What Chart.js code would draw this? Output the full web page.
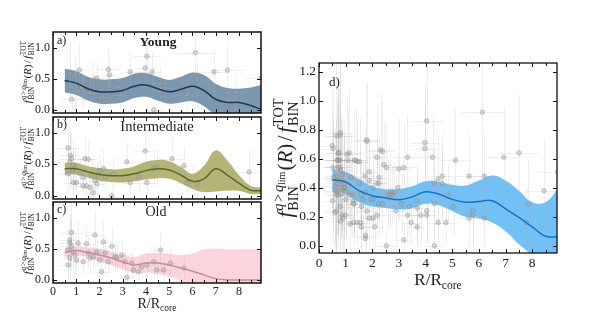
<!DOCTYPE html>
<html><head><meta charset="utf-8">
<script src="https://cdn.jsdelivr.net/npm/chart.js@4.4.1/dist/chart.umd.min.js"></script>
<style>
html,body{margin:0;padding:0;background:#fff;}
#wrap{position:relative;width:592px;height:316px;overflow:hidden;background:#fff}
canvas{position:absolute;left:0;top:0;width:592px;height:316px}
</style></head><body><div id="wrap">
<canvas id="ca" width="592" height="316"></canvas>
<canvas id="cb" width="592" height="316"></canvas>
<canvas id="cc" width="592" height="316"></canvas>
<canvas id="cd" width="592" height="316"></canvas>
</div>
<script>
// ---------- data ----------
const rKnots = [0.5,1.0,1.5,2.0,2.5,3.0,3.5,4.0,4.5,5.0,5.5,6.0,6.5,7.0,7.5,8.0,8.5,8.95];

const youngMid = [0.47,0.43,0.34,0.29,0.29,0.31,0.38,0.40,0.34,0.29,0.33,0.38,0.31,0.17,0.12,0.12,0.07,0.01];
const youngHi  = [0.66,0.62,0.53,0.49,0.49,0.51,0.58,0.59,0.53,0.48,0.53,0.60,0.56,0.42,0.35,0.34,0.36,0.40];
const youngLo  = [0.28,0.24,0.15,0.10,0.10,0.12,0.19,0.21,0.15,0.10,0.12,0.14,0.06,-0.08,-0.12,-0.12,-0.20,-0.35];

const interMid = [0.43,0.43,0.38,0.34,0.32,0.32,0.35,0.40,0.43,0.41,0.33,0.23,0.27,0.43,0.33,0.20,0.09,0.08];
const interHi  = [0.52,0.52,0.47,0.44,0.42,0.43,0.47,0.54,0.57,0.55,0.46,0.35,0.48,0.72,0.56,0.33,0.16,0.13];
const interLo  = [0.34,0.34,0.29,0.24,0.22,0.21,0.23,0.26,0.28,0.27,0.20,0.11,0.06,0.07,0.08,0.08,0.03,0.03];

const oldMid = [0.44,0.47,0.44,0.40,0.35,0.29,0.24,0.27,0.27,0.24,0.19,0.14,0.08,0.02,0.0,0.0,0.0,0.0];
const oldHi  = [0.52,0.53,0.52,0.50,0.46,0.40,0.37,0.42,0.43,0.42,0.40,0.42,0.49,0.50,0.49,0.49,0.49,0.49];
const oldLo  = [0.36,0.40,0.36,0.30,0.24,0.17,0.11,0.12,0.09,0.06,-0.02,-0.12,-0.25,-0.40,-0.50,-0.50,-0.50,-0.50];

const allMid = [0.455,0.44,0.38,0.345,0.33,0.317,0.337,0.372,0.355,0.32,0.30,0.305,0.31,0.255,0.195,0.13,0.065,0.062];
const allHi  = [0.53,0.51,0.46,0.41,0.39,0.39,0.41,0.445,0.44,0.42,0.415,0.45,0.485,0.45,0.38,0.30,0.30,0.39];
const allLo  = [0.37,0.36,0.30,0.27,0.26,0.25,0.26,0.29,0.28,0.24,0.20,0.19,0.16,0.10,0.01,-0.07,-0.18,-0.27];

// points: [R, value, xErr, yErr]
const youngPts = [
 [0.80,0.17,0.45,0.35],[0.94,0.40,0.50,0.45],[1.01,0.37,0.40,0.30],[1.13,0.64,0.55,0.45],
 [1.23,0.35,0.35,0.30],[1.30,0.31,0.45,0.25],[1.73,0.48,0.40,0.30],[1.88,0.51,0.35,0.25],
 [2.02,0.19,0.30,0.20],[2.17,0.21,0.40,0.15],[2.38,0.65,0.45,0.35],[2.43,0.56,0.30,0.30],
 [2.81,0.37,0.40,0.20],[2.89,0.24,0.35,0.25],[3.32,0.61,0.50,0.30],[4.04,0.86,0.60,0.40],
 [3.97,0.67,0.45,0.35],[4.26,0.61,0.40,0.30],[4.62,0.43,0.35,0.25],[4.84,0.35,0.45,0.20],
 [4.33,0.00,0.40,0.15],[6.13,0.92,0.80,0.45],[6.20,0.48,0.60,0.30],[6.93,0.61,0.70,0.35],
 [7.50,0.64,0.80,0.40],[7.86,0.29,0.60,0.30],[5.77,0.24,0.50,0.25],[0.72,0.59,0.55,0.50],
 [1.59,0.27,0.30,0.20],[8.95,0.51,0.70,0.40],[7.78,0.16,0.50,0.25]
];
const interPts = [
 [0.65,0.76,0.50,0.50],[0.75,0.64,0.45,0.45],[0.79,0.59,0.55,0.40],[0.72,0.54,0.50,0.45],
 [0.87,0.49,0.45,0.40],[0.94,0.43,0.50,0.35],[0.84,0.40,0.40,0.35],[0.65,0.35,0.45,0.40],
 [0.87,0.21,0.40,0.30],[1.16,0.35,0.35,0.25],[1.30,0.29,0.30,0.20],[1.37,0.59,0.45,0.35],
 [1.52,0.58,0.40,0.30],[1.44,0.16,0.30,0.15],[1.59,0.13,0.35,0.15],[1.73,0.05,0.30,0.10],
 [1.80,0.24,0.35,0.20],[1.66,0.32,0.30,0.25],[1.95,0.32,0.40,0.20],[2.02,0.40,0.35,0.25],
 [2.17,0.43,0.40,0.30],[2.24,0.29,0.30,0.20],[2.53,0.00,0.35,0.10],[2.60,0.35,0.40,0.25],
 [3.18,0.54,0.45,0.30],[3.32,0.21,0.40,0.20],[3.68,0.31,0.35,0.25],[3.97,0.71,0.50,0.40],
 [4.04,0.21,0.40,0.20],[4.33,0.43,0.45,0.25],[4.47,0.46,0.40,0.30],[5.12,0.59,0.55,0.35],
 [5.63,0.48,0.50,0.30],[5.77,0.21,0.45,0.20],[6.20,0.19,0.50,0.20],[8.44,0.38,0.70,0.35],
 [1.01,0.21,0.30,0.20],[1.30,0.16,0.35,0.15],[1.88,0.19,0.30,0.20]
];
const oldPts = [
 [0.79,0.76,0.50,0.50],[0.72,0.59,0.45,0.45],[0.79,0.54,0.50,0.40],[0.65,0.48,0.45,0.40],
 [0.87,0.45,0.50,0.35],[0.94,0.40,0.45,0.35],[0.72,0.35,0.40,0.35],[0.65,0.24,0.40,0.30],
 [1.01,0.32,0.35,0.25],[1.08,0.59,0.40,0.35],[1.44,0.58,0.40,0.30],[1.52,0.43,0.35,0.25],
 [1.59,0.35,0.30,0.25],[1.73,0.37,0.35,0.20],[1.80,0.72,0.45,0.40],[1.88,0.45,0.35,0.25],
 [2.02,0.32,0.30,0.20],[2.09,0.13,0.35,0.15],[2.17,0.61,0.40,0.35],[2.24,0.43,0.35,0.25],
 [2.53,0.54,0.40,0.30],[2.67,0.37,0.35,0.25],[2.74,0.35,0.30,0.20],[2.96,0.40,0.40,0.25],
 [3.10,0.29,0.35,0.20],[3.18,0.04,0.30,0.10],[3.39,0.27,0.40,0.20],[3.46,0.16,0.35,0.15],
 [3.68,0.13,0.30,0.15],[3.82,0.21,0.35,0.20],[4.04,0.24,0.40,0.20],[4.33,0.29,0.35,0.25],
 [4.47,0.16,0.40,0.15],[4.62,0.48,0.45,0.30],[4.76,0.16,0.40,0.15],[5.05,0.27,0.45,0.20],
 [5.63,0.19,0.50,0.20],[0.72,0.64,0.50,0.45],[1.30,0.29,0.30,0.20],[2.38,0.29,0.35,0.20]
];
// extra points only visible in the combined panel d
const dExtraPts = [
 [0.49,0.69,0.45,0.45],[0.80,0.78,0.50,0.45],[0.53,0.67,0.40,0.40],[0.68,0.59,0.45,0.40],
 [0.53,0.54,0.40,0.35],[0.82,0.52,0.45,0.35],[1.06,0.63,0.50,0.40],[0.54,0.47,0.40,0.35],
 [0.72,0.43,0.45,0.35],[0.66,0.37,0.40,0.30],[0.84,0.36,0.45,0.30],[0.51,0.31,0.40,0.30],
 [0.80,0.27,0.40,0.30],[0.59,0.23,0.40,0.25],[0.90,0.19,0.45,0.25],[1.56,0.16,0.40,0.20],
 [1.75,0.07,0.40,0.15],[1.33,0.59,0.45,0.35],[1.78,0.73,0.50,0.40],[2.31,0.66,0.50,0.40],
 [2.25,0.47,0.45,0.30],[3.00,0.53,0.50,0.35],[3.69,0.26,0.45,0.25],[1.17,0.15,0.40,0.20],
 [1.20,0.47,0.45,0.30],[0.60,0.41,0.50,0.40],[0.70,0.45,0.50,0.40],[0.62,0.38,0.45,0.40]
];
const allPts = youngPts.concat(interPts, oldPts, dExtraPts);

const xTickLabels = [0,1,2,3,4,5,6,7,8];
const yTicksLeft = [0.0,0.5,1.0];
const yTicksRight = [0.0,0.2,0.4,0.6,0.8,1.0,1.2];

// ---------- drawing helpers ----------
const FAM = '"Liberation Serif","DejaVu Serif",serif';
function setF(ctx, t, s){ ctx.font = (t.it?'italic ':'') + (t.b?'bold ':'') + (s*(t.k||1)).toFixed(2) + 'px ' + FAM; }
function tokW(ctx, t, s){
  if (t.g !== undefined) return t.g * s;
  if (t.stack) return Math.max(rowW(ctx,t.stack[0],s), rowW(ctx,t.stack[1],s));
  setF(ctx,t,s); return ctx.measureText(t.t).width;
}
function rowW(ctx, toks, s){ let w = 0; for (const t of toks) w += tokW(ctx,t,s); return w; }
function drawRow(ctx, toks, x, y, s){
  for (const t of toks){
    const w = tokW(ctx,t,s);
    if (t.stack){ drawRow(ctx,t.stack[0],x,y,s); drawRow(ctx,t.stack[1],x,y,s); }
    else if (t.g === undefined){ setF(ctx,t,s); ctx.fillText(t.t, x, y + (t.dy||0)*s); }
    x += w;
  }
}
function drawMath(ctx, toks, cx, cy, rot, s){
  ctx.save(); ctx.translate(cx,cy); ctx.rotate(rot);
  ctx.textAlign='left'; ctx.textBaseline='alphabetic'; ctx.fillStyle='#222';
  const w = rowW(ctx,toks,s);
  drawRow(ctx,toks,-w/2,s*0.33,s);
  ctx.restore();
}
const yLabelToks = [
  {t:'f',it:1},{g:0.05},
  {stack:[[{t:'q',it:1,k:.68,dy:-.42},{g:0.08},{t:'>',k:.68,dy:-.42},{g:0.08},{t:'q',it:1,k:.68,dy:-.42},{t:'lim',k:.48,dy:-.32}],
          [{t:'BIN',k:.68,dy:.27}]]},
  {g:0.05},{t:'('},{t:'R',it:1},{t:')'},{g:0.12},{t:'/'},{g:0.12},{t:'f',it:1},{g:0.05},
  {stack:[[{t:'TOT',k:.68,dy:-.42}],[{t:'BIN',k:.68,dy:.27}]]}
];
const xLabelToks = [{t:'R/R'},{t:'core',k:.68,dy:.25}];

function panel(id, sp){
  const A = sp.area;
  const xs = v => v.map((y,i)=>({x:rKnots[i], y}));
  const deco = {
    id: 'deco_'+id,
    beforeDatasetDraw(chart, args){
      if (args.index !== 2) return;
      const {ctx, chartArea:ca, scales:{x,y}} = chart;
      ctx.save(); ctx.beginPath(); ctx.rect(ca.left, ca.top, ca.right-ca.left, ca.bottom-ca.top); ctx.clip();
      ctx.strokeStyle = 'rgba(175,175,175,0.2)'; ctx.lineWidth = 1;
      for (const p of sp.pts){
        const px = Math.round(x.getPixelForValue(p[0]))+0.5, py = Math.round(y.getPixelForValue(p[1]))+0.5;
        ctx.beginPath();
        ctx.moveTo(x.getPixelForValue(p[0]-p[2]), py); ctx.lineTo(x.getPixelForValue(p[0]+p[2]), py);
        ctx.moveTo(px, y.getPixelForValue(p[1]-p[3])); ctx.lineTo(px, y.getPixelForValue(p[1]+p[3]));
        ctx.stroke();
      }
      ctx.restore();
    },
    afterDraw(chart){
      const {ctx, chartArea:ca, scales:{x,y}} = chart;
      ctx.save();
      ctx.strokeStyle = '#111'; ctx.lineWidth = sp.frameW;
      ctx.strokeRect(ca.left, ca.top, ca.right-ca.left, ca.bottom-ca.top);
      ctx.lineWidth = 1; ctx.beginPath();
      for (let v = 0; v <= sp.xmax + 1e-6; v += 0.5){
        const px = Math.round(x.getPixelForValue(v)) + 0.5;
        const L = (Math.abs(v - Math.round(v)) < 1e-6) ? 4 : 3;
        ctx.moveTo(px, ca.bottom); ctx.lineTo(px, ca.bottom - L);
        ctx.moveTo(px, ca.top); ctx.lineTo(px, ca.top + L);
      }
      for (const v of sp.yTicks){
        const py = Math.round(y.getPixelForValue(v)) + 0.5;
        ctx.moveTo(ca.left, py); ctx.lineTo(ca.left + 4, py);
        ctx.moveTo(ca.right, py); ctx.lineTo(ca.right - 4, py);
      }
      ctx.stroke();
      ctx.fillStyle = '#222'; ctx.textBaseline = 'middle';
      if (sp.title){
        ctx.textAlign = 'center';
        ctx.font = (sp.titleBold?'bold ':'') + sp.titleSize + 'px ' + FAM;
        ctx.fillText(sp.title, sp.titlePos[0], sp.titlePos[1]);
      }
      ctx.textAlign = 'left'; ctx.font = sp.letterSize + 'px ' + FAM;
      ctx.fillText(sp.letter, sp.letterPos[0], sp.letterPos[1]);
      drawMath(ctx, yLabelToks, sp.yl[0], sp.yl[1], -Math.PI/2, sp.yl[2]);
      if (sp.xl) drawMath(ctx, xLabelToks, sp.xl[0], sp.xl[1], 0, sp.xl[2]);
      ctx.restore();
    }
  };
  new Chart(document.getElementById(id), {
    type: 'line',
    data: { datasets: [
      {data: xs(sp.lo), pointRadius:0, borderWidth:1, borderColor:'rgba(0,0,0,0)', fill:false, tension:0.4, order:4},
      {data: xs(sp.hi), pointRadius:0, borderWidth:1, borderColor:'rgba(0,0,0,0)', backgroundColor: sp.band, fill:'-1', tension:0.4, order:3},
      {data: sp.pts.map(p=>({x:p[0], y:p[1]})), showLine:false, pointRadius:2.3, pointBackgroundColor:'rgba(165,165,165,0.42)', pointBorderColor:'rgba(120,120,120,0.42)', pointBorderWidth:0.8, order:2},
      {data: xs(sp.mid), pointRadius:0, borderWidth:sp.lineW, borderColor: sp.line, fill:false, tension:0.4, order:1}
    ]},
    options: {
      responsive:false, animation:false, events:[],
      layout:{autoPadding:false, padding:{left:0, top:A.t, right:592-A.r, bottom:316-A.b-sp.xh}},
      plugins:{legend:{display:false}, tooltip:{enabled:false}},
      scales:{
        x:{type:'linear', min:0, max:sp.xmax,
           grid:{display:false, drawTicks:false}, border:{display:false},
           afterBuildTicks: s => { s.ticks = xTickLabels.map(v=>({value:v})); },
           afterFit: s => { s.height = sp.xh; },
           ticks:{display: sp.showX, padding:2, color:'#222', autoSkip:false, maxRotation:0,
                  font:{family:FAM, size:sp.tickSize}, callback: v => String(v)}},
        y:{type:'linear', min:-0.05, max:sp.ymax,
           grid:{display:false, drawTicks:false}, border:{display:false},
           afterBuildTicks: s => { s.ticks = sp.yTicks.map(v=>({value:v})); },
           afterFit: s => { s.width = A.l; },
           ticks:{padding:3, color:'#222', autoSkip:false,
                  font:{family:FAM, size:sp.tickSize}, callback: v => Number(v).toFixed(1)}}
      }
    },
    plugins:[deco]
  });
}

panel('ca', {area:{l:53,t:32,r:261,b:113}, xh:0, showX:false, xmax:8.95, ymax:1.25, yTicks:yTicksLeft,
  mid:youngMid, hi:youngHi, lo:youngLo, pts:youngPts, band:'rgba(118,145,170,0.95)', line:'#1d3a57', lineW:1.5,
  title:'Young', titleBold:true, titleSize:13.5, titlePos:[158,43], letter:'a)', letterSize:12, letterPos:[57,41],
  yl:[27,72,11], tickSize:12, frameW:1.5});
panel('cb', {area:{l:53,t:117,r:261,b:199}, xh:0, showX:false, xmax:8.95, ymax:1.25, yTicks:yTicksLeft,
  mid:interMid, hi:interHi, lo:interLo, pts:interPts, band:'rgba(176,176,112,0.95)', line:'#5a6a28', lineW:1.5,
  title:'Intermediate', titleBold:false, titleSize:14.5, titlePos:[157,127], letter:'b)', letterSize:12, letterPos:[57,125],
  yl:[27,158,11], tickSize:12, frameW:1.5});
panel('cc', {area:{l:53,t:202,r:261,b:283}, xh:16, showX:true, xmax:8.95, ymax:1.25, yTicks:yTicksLeft,
  mid:oldMid, hi:oldHi, lo:oldLo, pts:oldPts, band:'rgba(250,205,214,0.85)', line:'#c88d9b', lineW:1.5,
  title:'Old', titleBold:false, titleSize:14, titlePos:[156,212], letter:'c)', letterSize:12, letterPos:[57,210],
  yl:[27,243,11], xl:[157,303,14], tickSize:12, frameW:1.5});
panel('cd', {area:{l:319,t:63,r:557,b:253}, xh:18, showX:true, xmax:8.93, ymax:1.26, yTicks:yTicksRight,
  mid:allMid, hi:allHi, lo:allLo, pts:allPts, band:'rgba(100,185,245,0.9)', line:'#1674c4', lineW:1.5,
  title:null, letter:'d)', letterSize:13, letterPos:[329,83],
  yl:[285,158,21], xl:[438,279,17], tickSize:13.5, frameW:1.3});
</script>
</body></html>
